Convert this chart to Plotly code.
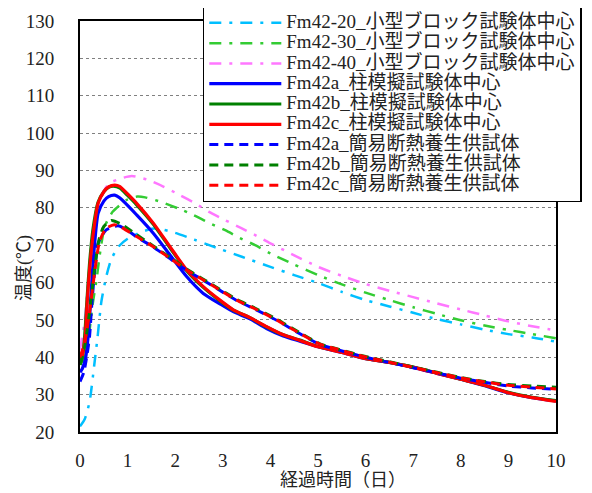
import plotly.graph_objects as go

# ---- data ----
names = [
    "Fm42-20_小型ブロック試験体中心",
    "Fm42-30_小型ブロック試験体中心",
    "Fm42-40_小型ブロック試験体中心",
    "Fm42a_柱模擬試験体中心",
    "Fm42b_柱模擬試験体中心",
    "Fm42c_柱模擬試験体中心",
    "Fm42a_簡易断熱養生供試体",
    "Fm42b_簡易断熱養生供試体",
    "Fm42c_簡易断熱養生供試体",
]

c20_x = [0, 0.1, 0.2, 0.3, 0.37, 0.45, 0.55, 0.65, 0.8, 1.0, 1.3, 1.6, 2.0, 2.4, 2.8, 3.4, 4.0, 4.5, 5.0, 5.5, 6.0, 6.5, 7.0, 7.5, 8.0, 8.5, 9.0, 9.5, 10]
c20_y = [21.5, 23.5, 28, 38, 45.5, 55, 61.5, 66, 69.5, 71.7, 73.6, 74.5, 73.3, 71.5, 69.6, 66.9, 64.2, 62, 59.9, 57.5, 55.3, 53.6, 51.9, 50.2, 48.8, 47.4, 46.2, 45.3, 44.2]

c30_x = [0, 0.1, 0.17, 0.2, 0.27, 0.35, 0.41, 0.52, 0.69, 0.98, 1.2, 1.37, 1.72, 2.07, 2.38, 2.69, 3.05, 3.36, 3.68, 4.0, 4.5, 5.0, 5.5, 6.0, 6.5, 7.0, 7.5, 8.0, 8.5, 9.0, 9.5, 10]
c30_y = [38, 40, 43, 47, 54.5, 61, 67, 75, 79, 82.1, 83, 82.8, 81.5, 79.8, 78.1, 76.1, 74, 71.9, 70, 67.8, 64.8, 62, 59.5, 57.3, 55.3, 53.4, 51.6, 49.9, 48.5, 47.3, 46.2, 45.1]

c40_x = [0, 0.1, 0.2, 0.3, 0.4, 0.5, 0.62, 0.87, 1.09, 1.4, 1.75, 2.1, 2.42, 2.7, 3.05, 3.4, 3.71, 4.0, 4.5, 5.0, 5.5, 6.0, 6.5, 7.0, 7.5, 8.0, 8.5, 9.0, 9.5, 10]
c40_y = [42, 50, 64, 74, 80.5, 84.5, 86.6, 87.9, 88.5, 87.6, 85.7, 83.4, 81.2, 79, 76.7, 74.5, 72.5, 70.5, 67.3, 64.2, 61.8, 59.6, 57.8, 56.1, 54.4, 52.8, 51.2, 49.6, 48.3, 47.2]

cola_x = [0, 0.05, 0.12, 0.17, 0.22, 0.29, 0.38, 0.5, 0.6, 0.73, 0.84, 1.19, 1.54, 1.89, 2.24, 2.59, 2.94, 3.22, 3.57, 3.92, 4.27, 4.62, 5.0, 5.5, 6.0, 6.5, 7.0, 7.5, 8.0, 8.5, 9.0, 9.5, 10]
cola_y = [36, 37, 40, 45.5, 54.5, 67.8, 78.5, 81.8, 83, 83.4, 82.6, 78.1, 73.2, 67.4, 61.6, 57.1, 54.3, 52.2, 50.3, 47.7, 45.7, 44.3, 42.8, 41.3, 39.6, 38.6, 37.3, 35.7, 34.1, 32.4, 30.5, 29.2, 28.3]

colb_x = [0, 0.05, 0.1, 0.15, 0.2, 0.27, 0.38, 0.5, 0.6, 0.7, 0.84, 1.0, 1.19, 1.54, 1.89, 2.24, 2.59, 2.94, 3.22, 3.57, 3.92, 4.27, 4.62, 5.0, 5.5, 6.0, 6.5, 7.0, 7.5, 8.0, 8.5, 9.0, 9.5, 10]
colb_y = [38, 40, 46, 56, 65, 74, 81.5, 84.3, 85.5, 85.8, 85.3, 83.3, 80.8, 75.6, 69.3, 63.2, 58.7, 55.1, 52.6, 50.6, 48.1, 46, 44.6, 42.9, 41.4, 39.7, 38.6, 37.4, 35.8, 34.1, 32.5, 30.6, 29.3, 28.4]

colc_x = [0, 0.04, 0.11, 0.15, 0.2, 0.27, 0.38, 0.5, 0.6, 0.73, 0.84, 1.0, 1.19, 1.54, 1.89, 2.24, 2.59, 2.94, 3.22, 3.57, 3.92, 4.27, 4.62, 5.0, 5.5, 6.0, 6.5, 7.0, 7.5, 8.0, 8.5, 9.0, 9.5, 10]
colc_y = [39.5, 40.2, 45.5, 54.5, 63.4, 72.3, 81.2, 84.3, 85.6, 86.1, 85.7, 83.7, 81.2, 75.9, 69.6, 63.4, 58.9, 55.3, 52.7, 50.6, 48.2, 46, 44.5, 42.8, 41.3, 39.6, 38.6, 37.3, 35.7, 34.1, 32.5, 30.5, 29.2, 28.2]

sa_x = [0, 0.08, 0.14, 0.2, 0.25, 0.31, 0.38, 0.55, 0.8, 1.0, 1.19, 1.54, 1.89, 2.24, 2.59, 2.94, 3.29, 3.64, 4.13, 4.55, 5.04, 5.39, 6.0, 6.5, 7.0, 7.5, 8.0, 8.5, 9.0, 9.5, 10]
sa_y = [33.5, 36, 40, 45.5, 54.5, 63.4, 70.5, 74.1, 75.2, 74, 72.2, 69.5, 66.4, 63.3, 60.6, 57.9, 55.2, 53.1, 49.9, 46.8, 43.4, 42.1, 40, 38.6, 37.2, 35.8, 34.4, 33.3, 32.3, 31.8, 31.4]

sb_x = [0, 0.1, 0.2, 0.3, 0.4, 0.5, 0.66, 0.84, 1.19, 1.54, 1.89, 2.24, 2.59, 2.94, 3.29, 3.64, 4.13, 4.55, 5.04, 5.39, 6.0, 6.5, 7.0, 7.5, 8.0, 8.5, 9.0, 9.5, 10]
sb_y = [38, 43, 52, 63, 71.5, 75, 76.6, 75.8, 72.8, 69.8, 66.7, 63.6, 60.9, 58.2, 55.5, 53.4, 50.2, 47.1, 43.6, 42.3, 40.2, 38.8, 37.4, 36, 34.6, 33.5, 32.7, 32.3, 32]

sc_x = [0, 0.1, 0.2, 0.3, 0.41, 0.55, 0.72, 0.84, 1.19, 1.54, 1.89, 2.24, 2.59, 2.94, 3.29, 3.64, 4.13, 4.55, 5.04, 5.39, 6.0, 6.5, 7.0, 7.5, 8.0, 8.5, 9.0, 9.5, 10]
sc_y = [40, 44, 52, 62, 71, 74.5, 75.5, 75, 72.3, 69.6, 66.5, 63.4, 60.7, 58, 55.3, 53.2, 50, 46.9, 43.5, 42.2, 40.1, 38.7, 37.3, 35.9, 34.5, 33.4, 32.5, 32, 31.5]

x_ticks = list(range(0, 11))
y_ticks = list(range(20, 131, 10))

series = [
    (c20_x, c20_y, "#00BFFF", "12px,8px,3px,8px", 2.5),
    (c30_x, c30_y, "#33CC33", "12px,8px,3px,8px", 2.5),
    (c40_x, c40_y, "#FF77FF", "12px,8px,3px,8px", 2.5),
    (cola_x, cola_y, "#0000FF", "solid", 3.2),
    (colb_x, colb_y, "#008000", "solid", 3.2),
    (colc_x, colc_y, "#FF0000", "solid", 3.2),
    (sa_x, sa_y, "#0000FF", "9px,6px", 3),
    (sb_x, sb_y, "#008000", "9px,6px", 3),
    (sc_x, sc_y, "#FF0000", "9px,6px", 3),
]

FONT = "Liberation Serif, Noto Sans CJK JP, serif"

fig = go.Figure()
for (xs, ys, col, dash, w), nm in zip(series, names):
    fig.add_trace(go.Scatter(
        x=xs, y=ys, mode="lines",
        name='<span style="font-size:19px">' + nm + '</span>',
        line=dict(color=col, dash=dash, width=w, shape="spline", smoothing=0.6),
    ))

# page body adds an 8px offset; margins compensate so the plot sits where the reference's does
fig.update_layout(
    width=592, height=493,
    margin=dict(l=72, r=44, t=13, b=69, autoexpand=False),
    paper_bgcolor="white", plot_bgcolor="white",
    font=dict(family=FONT, size=19, color="#222"),
    showlegend=True,
    legend=dict(
        x=0.258, y=1.036, xanchor="left", yanchor="top",
        bgcolor="white", bordercolor="black", borderwidth=1.5,
        font=dict(family=FONT, size=13.3, color="#222"),
        tracegroupgap=0, itemwidth=72,
    ),
    xaxis=dict(
        range=[0, 10], tickvals=x_ticks, showgrid=False, zeroline=False,
        showline=True, mirror=True, linecolor="black", linewidth=2,
        ticks="", ticklabelstandoff=10, tickfont=dict(size=19),
    ),
    yaxis=dict(
        range=[20, 130], tickvals=y_ticks, showgrid=True, gridcolor="#808080",
        griddash="dot", gridwidth=1, zeroline=False,
        showline=True, mirror=True, linecolor="black", linewidth=2,
        ticks="", ticklabelstandoff=20, tickfont=dict(size=19),
    ),
    annotations=[
        dict(text="温度(℃)", textangle=-90, xref="paper", yref="paper",
             x=-0.1176, y=0.399, xanchor="center", yanchor="middle", showarrow=False,
             font=dict(family=FONT, size=18, color="#222")),
        dict(text="経過時間（日）", xref="paper", yref="paper",
             x=0.553, y=-0.117, xanchor="center", yanchor="middle", showarrow=False,
             font=dict(family=FONT, size=18, color="#222")),
    ],
)

fig.write_html("out.html")
